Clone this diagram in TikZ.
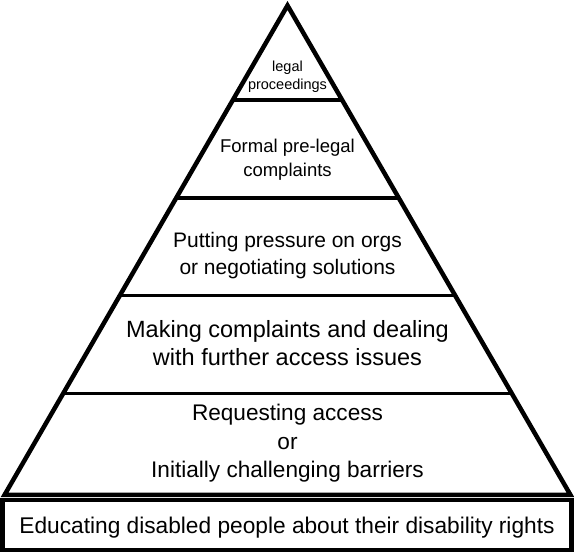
\documentclass[tikz,border=0pt]{standalone}
\usepackage{fontspec}
\setmainfont{Liberation Sans}
\usetikzlibrary{calc}
\begin{document}
\begin{tikzpicture}[x=1pt,y=-1pt]
\tikzset{
  side/.style={line width=4.5pt, line join=miter},
  tier/.style={line width=3.5pt},
  basebox/.style={line width=4.5pt},
  lbl/.style={anchor=base, inner sep=0pt},
}
\useasboundingbox (0,0) rectangle (574,556);
\coordinate (apex) at (287.5,5.5);
\coordinate (bl) at (4.5,495);
\coordinate (br) at (570.5,495);
% tier lines
\foreach \yy/\nm in {100/a,198/b,295.5/c,393.5/d}{
  \pgfmathsetmacro{\tt}{(\yy-5.5)/489.5}
  \coordinate (L\nm) at ($(apex)!\tt!(bl)$);
  \coordinate (R\nm) at ($(apex)!\tt!(br)$);
  \draw[tier] (L\nm) -- (R\nm);
}
\draw[side] (apex) -- (bl) -- (br) -- cycle;
\node[draw, basebox, minimum width=569pt, minimum height=50pt, inner sep=0pt] (bottom) at (287,525) {};
% texts
\node[lbl, font=\fontsize{14.5}{16}\selectfont] (t1a) at (287.5,72) {legal};
\node[lbl, font=\fontsize{14.5}{16}\selectfont] (t1b) at (287.5,89.5) {proceedings};
\node[lbl, font=\fontsize{18.5}{22}\selectfont] (t2a) at (287.5,153) {Formal pre-legal};
\node[lbl, font=\fontsize{18.5}{22}\selectfont] (t2b) at (287.5,176.5) {complaints};
\node[lbl, font=\fontsize{21}{25}\selectfont] (t3a) at (287.5,248) {Putting pressure on orgs};
\node[lbl, font=\fontsize{21}{25}\selectfont] (t3b) at (287.5,274.5) {or negotiating solutions};
\node[lbl, font=\fontsize{23.5}{28}\selectfont] (t4a) at (287.5,338) {Making complaints and dealing};
\node[lbl, font=\fontsize{23.5}{28}\selectfont] (t4b) at (287.5,366) {with further access issues};
\node[lbl, font=\fontsize{22.6}{28}\selectfont] (t5a) at (287.5,421) {Requesting access};
\node[lbl, font=\fontsize{22.6}{28}\selectfont] (t5b) at (287.5,449.5) {or};
\node[lbl, font=\fontsize{22.6}{28}\selectfont] (t5c) at (287.5,478) {Initially challenging barriers};
\node[lbl, font=\fontsize{22.7}{28}\selectfont] (t6) at (287,534) {Educating disabled people about their disability rights};
\end{tikzpicture}
\end{document}
